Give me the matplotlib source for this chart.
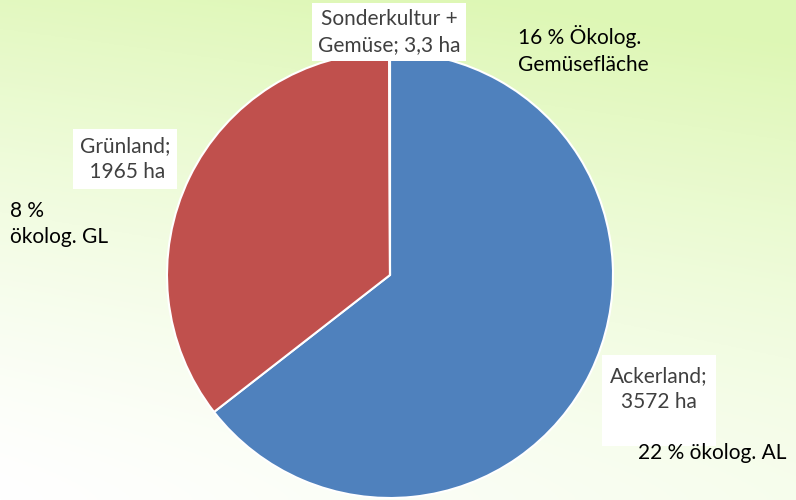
import numpy as np
import matplotlib.pyplot as plt
from matplotlib.patches import Rectangle

LABELS = ["Ackerland", "Grünland", "Sonderkultur +\nGemüse"]
AREAS_HA = [3572, 1965, 3.3]
AREA_TEXT = ["3572 ha", "1965 ha", "3,3 ha"]
COLORS = ["#4F81BD", "#C0504D", "#9BBB59"]
NOTES = ["22 % ökolog. AL", "8 %\nökolog. GL", "16 % Ökolog.\nGemüsefläche"]

W, H = 796, 500


def fx(x):
    return x / W


def fy(y):
    return 1 - y / H


def main():
    plt.rcParams["font.family"] = ["Lato", "DejaVu Sans"]
    fig = plt.figure(figsize=(W / 100, H / 100), dpi=100)

    # background gradient: green at the top, fading to white lower left
    bg = fig.add_axes([0, 0, 1, 1])
    yy, xx = np.mgrid[0:1:200j, 0:1:320j]
    t = np.clip(0.85 * (1 - yy) ** 1.4 + 0.25 * xx, 0, 1)
    white = np.array([1.0, 1.0, 1.0])
    green = np.array([0.87, 0.97, 0.71])
    img = white * (1 - t[..., None]) + green * t[..., None]
    bg.imshow(img, extent=[0, 1, 0, 1], origin="upper", aspect="auto")
    bg.axis("off")

    # white box behind the Ackerland label (taller than the text, as in the slide)
    fig.patches.append(Rectangle((fx(602), fy(446)), 114 / W, 91 / H,
                                 transform=fig.transFigure, facecolor="white",
                                 edgecolor="none", zorder=1))

    ax = fig.add_axes([fx(167), fy(498), 446 / W, 446 / H])
    ax.pie(AREAS_HA, colors=COLORS, startangle=90, counterclock=False,
           wedgeprops=dict(edgecolor="white", linewidth=1.5))
    ax.set_xlim(-1, 1)
    ax.set_ylim(-1, 1)
    ax.set_aspect("equal")
    ax.axis("off")

    gray = "#404040"
    fs = 15
    fig.text(fx(659), fy(389), f"{LABELS[0]};\n{AREA_TEXT[0]}", ha="center", va="center",
             fontsize=fs, color=gray, linespacing=1.4)
    fig.text(fx(125), fy(159), f"{LABELS[1]};\n {AREA_TEXT[1]}", ha="center", va="center",
             fontsize=fs, color=gray, linespacing=1.4,
             bbox=dict(facecolor="white", edgecolor="none", pad=5))
    fig.text(fx(389), fy(32), f"{LABELS[2]}; {AREA_TEXT[2]}", ha="center", va="center",
             fontsize=fs, color=gray, linespacing=1.4,
             bbox=dict(facecolor="white", edgecolor="none", pad=4))

    fig.text(fx(638), fy(453), NOTES[0], ha="left", va="center", fontsize=fs, color="black")
    fig.text(fx(10), fy(224), NOTES[1], ha="left", va="center", fontsize=fs, color="black",
             linespacing=1.4)
    fig.text(fx(518), fy(50), NOTES[2], ha="left", va="center", fontsize=fs, color="black",
             linespacing=1.4)

    fig.savefig("out.png", dpi=100)
    plt.close(fig)


if __name__ == "__main__":
    main()
